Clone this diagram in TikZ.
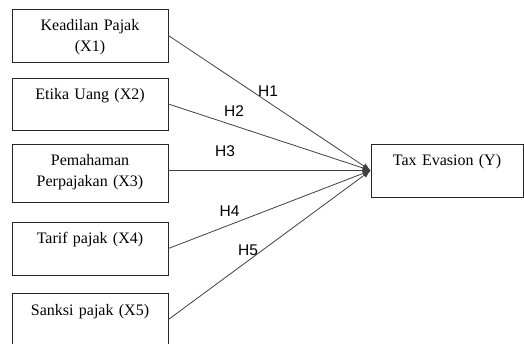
\documentclass[tikz,border=0pt]{standalone}
\usepackage{fontspec}
\setmainfont{Liberation Serif}
\setsansfont{Liberation Sans}
\usetikzlibrary{arrows.meta, positioning}

\begin{document}
\begin{tikzpicture}[
  x=1pt, y=1pt,
  var/.style={draw=black!85, line width=0.8pt, minimum width=156pt,
              text width=150pt, align=center, inner xsep=3pt, inner ysep=4pt,
              text height=18pt, text depth=27pt,
              font=\fontsize{16}{20.5}\selectfont},
  hyp/.style={anchor=base, inner sep=0pt,
              font=\sffamily\fontsize{15.5}{18}\selectfont},
  link/.style={draw=black!75, line width=0.8pt,
               -{Latex[length=8pt, width=6pt]}}
]
  \useasboundingbox (0,0) rectangle (524,-344);

  \node[var] (x1) at (90, -35.5) {Keadilan Pajak\\(X1)};
  \node[var, text depth=26pt] (x2) at (90, -104) {Etika Uang (X2)};
  \node[var, text depth=32pt] (x3) at (90, -173) {Pemahaman\\Perpajakan (X3)};
  \node[var] (x4) at (90, -248.5) {Tarif pajak (X4)};
  \node[var] (x5) at (90, -319.5) {Sanksi pajak (X5)};

  \node[var, minimum width=152pt, text width=146pt] (y) at (447, -170.5)
    {Tax Evasion (Y)};

  \draw[link] (x1.east) -- (y.west);
  \draw[link] (x2.east) -- (y.west);
  \draw[link] (x3.east |- y.west) -- (y.west);
  \draw[link] (x4.east) -- (y.west);
  \draw[link] (x5.east) -- (y.west);

  \node[hyp] (h1) at (268, -97) {H1};
  \node[hyp] (h2) at (234, -117) {H2};
  \node[hyp] (h3) at (225, -157) {H3};
  \node[hyp] (h4) at (229.5, -217) {H4};
  \node[hyp] (h5) at (248, -256) {H5};
\end{tikzpicture}
\end{document}
